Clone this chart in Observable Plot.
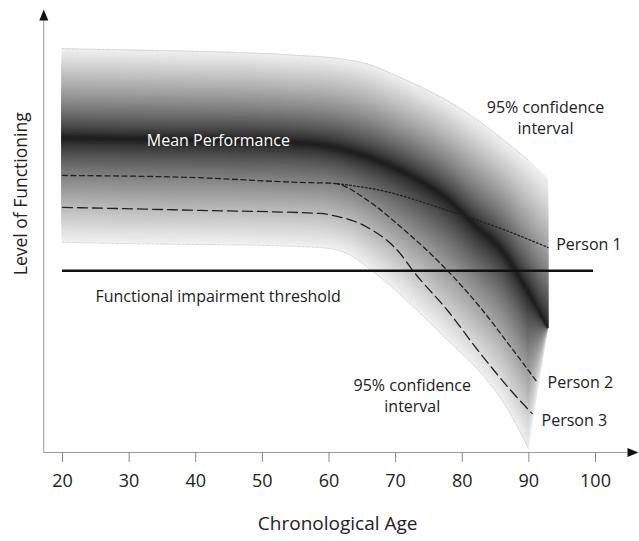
<!DOCTYPE html>
<html>
<head>
<meta charset="utf-8">
<script src="https://cdn.jsdelivr.net/npm/d3@7"></script>
<script src="https://cdn.jsdelivr.net/npm/@observablehq/plot@0.6"></script>
<style>
  html, body { margin: 0; padding: 0; background: #fff; }
  svg { display: block; }
</style>
</head>
<body>
<div id="chart"></div>
<script>
// ---- data ----
const bandAges  = [20, 30, 40, 50, 56, 60, 63, 66, 70, 74, 78, 82, 86, 90, 92.9];
const meanLevel = [71.9, 71.6, 71.4, 71.2, 70.7, 70.0, 68.9, 67.5, 65.0, 61.8, 57.7, 51.9, 46.2, 36.6, 28.4];
const upperCI   = [92.4, 92.1, 91.8, 91.3, 90.8, 90.4, 89.8, 88.8, 86.3, 83.5, 80.3, 76.4, 71.8, 66.8, 62.7];
const lowerCI   = [48.1, 47.8, 47.6, 47.4, 47.1, 46.7, 45.3, 42.1, 37.1, 31.4, 25.4, 19.5, 11.9, 0.8, 28.4];

const person1Ages  = [60.7, 67.7, 77.8, 85.7, 92.9];
const person1Level = [61.6, 60.0, 55.4, 51.3, 46.9];
const person2Ages  = [20, 40, 55.7, 60.7, 65.8, 70.7, 77.8, 82.7, 87.7, 91.3];
const person2Level = [63.4, 62.9, 61.8, 61.6, 57.7, 51.7, 41.6, 33.2, 23.3, 16.0];
const person3Ages  = [20, 40.7, 58.7, 60.7, 65.8, 70.7, 72.6, 77.8, 82.7, 87.7, 90.5];
const person3Level = [56.1, 55.4, 54.7, 54.2, 51.5, 45.5, 41.6, 32.5, 22.7, 13.5, 8.9];

const thresholdLevel = 41.6;
const thresholdAges = [20, 99.7];

const xTicks = [20, 30, 40, 50, 60, 70, 80, 90, 100];
const xTickLabels = ["20", "30", "40", "50", "60", "70", "80", "90", "100"];

// ---- derived tables ----
const band = bandAges.map((a, i) => ({age: a, mean: meanLevel[i], upper: upperCI[i], lower: lowerCI[i]}));
const bandMain = band.filter(d => d.age <= 90);
const bandTip = band.filter(d => d.age >= 90);
const toRows = (ages, lv) => ages.map((a, i) => ({age: a, level: lv[i]}));
const p1 = toRows(person1Ages, person1Level);
const p2 = toRows(person2Ages, person2Level);
const p3 = toRows(person3Ages, person3Level);
const ticks = xTicks.map((t, i) => ({age: t, label: xTickLabels[i]}));

const FONT = "Open Sans";
const N = 60;
const bandMarks = [];
for (let k = N; k >= 1; k--) {
  const t = k / N;
  const v = Math.round(18 + 222 * Math.pow(t, 0.7));
  const opts = (curve) => ({
    x: "age",
    y1: d => d.mean + t * (d.lower - d.mean),
    y2: d => d.mean + t * (d.upper - d.mean),
    fill: `rgb(${v},${v},${v})`,
    stroke: `rgb(${v},${v},${v})`,
    strokeWidth: 0.3,
    curve
  });
  bandMarks.push(Plot.areaY(bandMain, opts("monotone-x")));
  bandMarks.push(Plot.areaY(bandTip, opts("linear")));
}

const arrowHead = {
  draw(ctx) { ctx.moveTo(0, -11); ctx.lineTo(4.5, 0); ctx.lineTo(-4.5, 0); ctx.closePath(); }
};

const axisX0 = 17.19, axisXEnd = 104.8;
const edgeStyle = {stroke: "#c4c4c4", strokeWidth: 0.8, strokeDasharray: "1,1.5"};

const chart = Plot.plot({
  width: 639,
  height: 541,
  marginLeft: 62,
  marginRight: 44,
  marginTop: 15,
  marginBottom: 89,
  x: {domain: [20, 100], axis: null},
  y: {domain: [0, 100], axis: null},
  style: {fontFamily: FONT, background: "#fff"},
  marks: [
    ...bandMarks,
    Plot.line(bandMain, {x: "age", y: "upper", ...edgeStyle, curve: "monotone-x"}),
    Plot.line(bandMain, {x: "age", y: "lower", ...edgeStyle, curve: "monotone-x"}),
    // person lines
    Plot.line(p1, {x: "age", y: "level", stroke: "#222", strokeWidth: 1.3, strokeDasharray: "1.8,2.2", curve: "monotone-x"}),
    Plot.line(p2, {x: "age", y: "level", stroke: "#222", strokeWidth: 1.3, strokeDasharray: "5,3.5", curve: "monotone-x"}),
    Plot.line(p3, {x: "age", y: "level", stroke: "#222", strokeWidth: 1.3, strokeDasharray: "10,5", curve: "monotone-x"}),
    // threshold
    Plot.ruleY([thresholdLevel], {x1: thresholdAges[0], x2: thresholdAges[1], stroke: "#111", strokeWidth: 2.5}),
    // axes
    Plot.ruleY([0], {x1: axisX0, x2: axisXEnd, stroke: "#999", strokeWidth: 1}),
    Plot.ruleX([axisX0], {y1: 0, y2: 98.86, stroke: "#999", strokeWidth: 1}),
    Plot.dot([{age: axisX0, level: 98.86}], {x: "age", y: "level", symbol: arrowHead, fill: "#111", r: 5}),
    Plot.dot([{age: axisXEnd, level: 0}], {x: "age", y: "level", symbol: arrowHead, fill: "#111", r: 5, rotate: 90}),
    Plot.ruleX(ticks, {x: "age", y1: 0, y2: -2.29, stroke: "#888", strokeWidth: 1}),
    Plot.text(ticks, {x: "age", y: -6.64, text: "label", fontSize: 18, fill: "#222"}),
    Plot.text(["Chronological Age"], {x: 61.3, y: -16.25, text: d => d, fontSize: 19, fill: "#222"}),
    Plot.text(["Level of Functioning"], {x: 13.85, y: 59.2, text: d => d, fontSize: 17.5, fill: "#222", rotate: -90}),
    // annotations
    Plot.text(["Mean Performance"], {x: 43.4, y: 71.2, text: d => d, fontSize: 16, fill: "#fff"}),
    Plot.text(["95% confidence\ninterval"], {x: 92.5, y: 76.9, text: d => d, fontSize: 16, fill: "#222", lineHeight: 1.35}),
    Plot.text(["95% confidence\ninterval"], {x: 72.5, y: 13.3, text: d => d, fontSize: 16, fill: "#222", lineHeight: 1.35}),
    Plot.text(["Functional impairment threshold"], {x: 24.95, y: 35.7, text: d => d, fontSize: 16, fill: "#222", textAnchor: "start"}),
    Plot.text(["Person 1"], {x: 94.1, y: 47.4, text: d => d, fontSize: 16, fill: "#222", textAnchor: "start"}),
    Plot.text(["Person 2"], {x: 92.8, y: 16.0, text: d => d, fontSize: 16, fill: "#222", textAnchor: "start"}),
    Plot.text(["Person 3"], {x: 91.9, y: 7.3, text: d => d, fontSize: 16, fill: "#222", textAnchor: "start"})
  ]
});
document.getElementById("chart").appendChild(chart);
</script>
</body>
</html>
